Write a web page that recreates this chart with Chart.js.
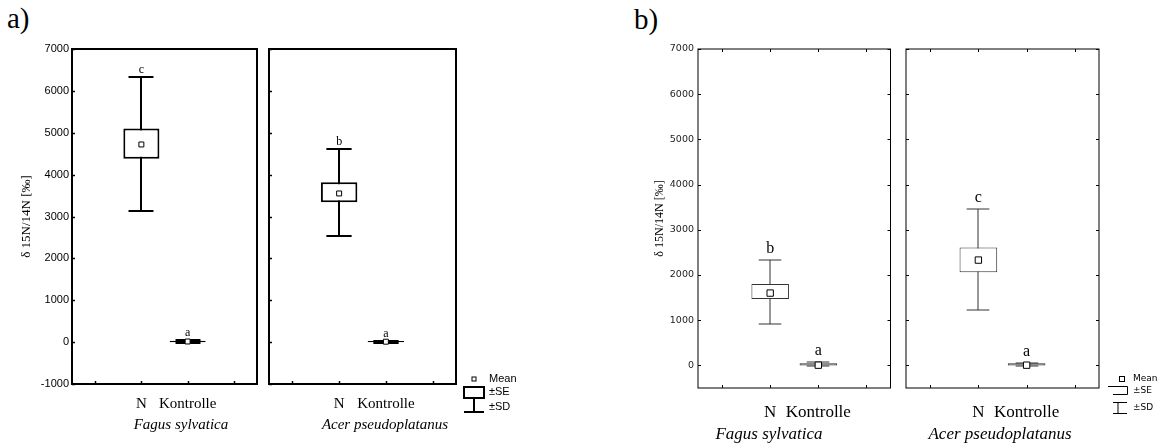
<!DOCTYPE html>
<html>
<head>
<meta charset="utf-8">
<script src="https://cdn.jsdelivr.net/npm/chart.js@4.4.0/dist/chart.umd.min.js"></script>
<style>
    body { margin: 0; background: #fff; width: 1164px; height: 445px; position: relative; overflow: hidden; }
    canvas { position: absolute; top: 0; }
    .txt { position: absolute; font-family: 'Liberation Serif', 'Times New Roman', serif; color: #000; white-space: nowrap; }
    .sp { font-style: italic; transform: translateX(-50%); }
</style>
</head>
<body>
<div class="txt" style="left:7px;top:2px;font-size:29px">a)</div>
<div class="txt" style="left:634px;top:3px;font-size:29px">b)</div>

<canvas id="aFagus" width="262" height="445" style="left:0"></canvas>
<canvas id="aAcer" width="300" height="445" style="left:262px"></canvas>
<canvas id="bFagus" width="316" height="445" style="left:580px"></canvas>
<canvas id="bAcer" width="268" height="445" style="left:896px"></canvas>

<div class="txt sp" style="left:181px;top:416px;font-size:15px">Fagus sylvatica</div>
<div class="txt sp" style="left:385px;top:416px;font-size:15px">Acer pseudoplatanus</div>
<div class="txt sp" style="left:769px;top:424px;font-size:17px">Fagus sylvatica</div>
<div class="txt sp" style="left:1000px;top:424px;font-size:17px">Acer pseudoplatanus</div>

<script>
    // Kategorien: leere Plätze links/rechts wie im Original
    const categories = ['', 'N', 'Kontrolle', ''];
    const yTicksA = [-1000, 0, 1000, 2000, 3000, 4000, 5000, 6000, 7000];
    const yTicksB = [0, 1000, 2000, 3000, 4000, 5000, 6000, 7000];
    const yTitle = 'δ 15N/14N [‰]';

    // a) Fagus sylvatica
    const aFagusMean = [4720, 15];
    const aFagusSE = [[4380, 5100], [0, 30]];
    const aFagusSD = [[3120, 6330], [-20, 50]];
    const aFagusLetters = ['c', 'a'];

    // a) Acer pseudoplatanus
    const aAcerMean = [3550, 10];
    const aAcerSE = [[3340, 3820], [-5, 25]];
    const aAcerSD = [[2530, 4610], [-15, 35]];
    const aAcerLetters = ['b', 'a'];

    // b) Fagus sylvatica
    const bFagusMean = [1600, 5];
    const bFagusSE = [[1470, 1800], [0, 50]];
    const bFagusSD = [[910, 2330], [-15, 65]];
    const bFagusLetters = ['b', 'a'];

    // b) Acer pseudoplatanus
    const bAcerMean = [2330, 5];
    const bAcerSE = [[2060, 2610], [0, 45]];
    const bAcerSD = [[1220, 3450], [-15, 60]];
    const bAcerLetters = ['c', 'a'];

    // Rahmen um die Zeichenfläche plus kurze Striche nach innen
    const framePlugin = {
        id: 'frame',
        afterDraw(chart, args, o) {
            const {ctx, chartArea: a, scales: {x, y}} = chart;
            ctx.save();
            ctx.strokeStyle = '#000';
            ctx.lineWidth = o.lineWidth;
            ctx.strokeRect(a.left, a.top, a.right - a.left, a.bottom - a.top);
            ctx.lineWidth = o.tickWidth;
            ctx.beginPath();
            o.yTicks.forEach(v => {
                const py = Math.round(y.getPixelForValue(v)) + 0.5;
                if (o.sides.includes('left')) { ctx.moveTo(a.left, py); ctx.lineTo(a.left + o.tickLen, py); }
                if (o.sides.includes('right')) { ctx.moveTo(a.right, py); ctx.lineTo(a.right - o.tickLen, py); }
            });
            categories.forEach((c, i) => {
                const px = Math.round(x.getPixelForValue(i)) + 0.5;
                if (o.sides.includes('bottom')) { ctx.moveTo(px, a.bottom); ctx.lineTo(px, a.bottom - o.tickLen); }
                if (o.sides.includes('top')) { ctx.moveTo(px, a.top); ctx.lineTo(px, a.top + o.tickLen); }
            });
            ctx.stroke();
            ctx.restore();
        }
    };

    // ±SD Whisker hinter den Boxen, Buchstaben darüber
    const whiskerPlugin = {
        id: 'whiskers',
        beforeDatasetsDraw(chart, args, o) {
            const {ctx, scales: {x, y}} = chart;
            const slot = x.getPixelForValue(1) - x.getPixelForValue(0);
            const half = slot * o.cap / 2;
            ctx.save();
            ctx.strokeStyle = o.color;
            ctx.lineWidth = o.lineWidth;
            o.sd.forEach((r, k) => {
                const px = Math.round(x.getPixelForValue(k + 1));
                const y0 = Math.round(y.getPixelForValue(r[0]));
                const y1 = Math.round(y.getPixelForValue(r[1]));
                ctx.beginPath();
                ctx.moveTo(px, y0); ctx.lineTo(px, y1);
                ctx.moveTo(px - half, y0); ctx.lineTo(px + half, y0);
                ctx.moveTo(px - half, y1); ctx.lineTo(px + half, y1);
                ctx.stroke();
            });
            ctx.restore();
        },
        afterDatasetsDraw(chart, args, o) {
            const {ctx, scales: {x, y}} = chart;
            ctx.save();
            ctx.fillStyle = '#000';
            ctx.font = o.letterFont;
            ctx.textAlign = 'center';
            ctx.textBaseline = 'alphabetic';
            o.letters.forEach((t, k) => {
                ctx.fillText(t, x.getPixelForValue(k + 1), y.getPixelForValue(o.sd[k][1]) - o.gap);
            });
            ctx.restore();
        }
    };

    // Legende (Mean / ±SE / ±SD) rechts neben dem zweiten Feld
    const keyPlugin = {
        id: 'key',
        afterDraw(chart, args, o) {
            if (!o.show) return;
            const {ctx, chartArea: a} = chart;
            const gx = a.right + o.dx;
            ctx.save();
            ctx.strokeStyle = '#000';
            ctx.fillStyle = '#000';
            ctx.font = o.font;
            ctx.textBaseline = 'middle';
            ctx.textAlign = 'left';
            const tx = a.right + o.textDx;
            // Mean
            ctx.lineWidth = 1;
            const s = o.meanSize;
            ctx.strokeRect(gx - s / 2 + 0.5, o.yMean - s / 2 + 0.5, s - 1, s - 1);
            ctx.fillText('Mean', tx, o.yMean);
            if (o.style === 'a') {
                ctx.lineWidth = 2;
                ctx.strokeRect(gx - 10, o.ySE - 5, 20, 11);
                ctx.beginPath();
                ctx.moveTo(gx, o.ySE + 6); ctx.lineTo(gx, o.ySD + 5);
                ctx.moveTo(gx - 10, o.ySD + 5); ctx.lineTo(gx + 10, o.ySD + 5);
                ctx.stroke();
            } else {
                ctx.lineWidth = 1;
                ctx.beginPath();
                ctx.moveTo(gx - 14, o.ySE - 4.5); ctx.lineTo(gx + 5.5, o.ySE - 4.5); ctx.lineTo(gx + 5.5, o.ySE + 3.5);
                ctx.lineTo(gx - 9, o.ySE + 3.5);
                ctx.moveTo(gx - 9, o.ySD - 5.5); ctx.lineTo(gx + 5, o.ySD - 5.5);
                ctx.moveTo(gx - 4, o.ySD - 5.5); ctx.lineTo(gx - 4, o.ySD + 5.5);
                ctx.moveTo(gx - 9, o.ySD + 5.5); ctx.lineTo(gx + 5, o.ySD + 5.5);
                ctx.stroke();
            }
            ctx.fillText('±SE', tx, o.ySE);
            ctx.fillText('±SD', tx, o.ySD);
            ctx.restore();
        }
    };

    function makePanel(canvasId, p) {
        const ctx = document.getElementById(canvasId).getContext('2d');
        return new Chart(ctx, {
            type: 'bar',
            data: {
                labels: categories,
                datasets: [
                    {
                        type: 'line', label: 'Mean', data: [null, ...p.mean, null],
                        showLine: false, pointStyle: 'rect', pointRadius: p.pointR,
                        pointBackgroundColor: '#fff', pointBorderColor: '#000', pointBorderWidth: 1, order: 0
                    },
                    {
                        label: '±SE', data: [null, ...p.se, null],
                        backgroundColor: '#fff', borderColor: p.boxColor, borderWidth: p.lw,
                        borderSkipped: false, barPercentage: 0.78, categoryPercentage: 1, order: 1
                    }
                ]
            },
            options: {
                responsive: false,
                animation: false,
                layout: { padding: p.padding },
                plugins: {
                    legend: { display: false },
                    tooltip: { enabled: false },
                    frame: { lineWidth: p.frameW, tickWidth: p.tickW, tickLen: 3, sides: p.sides, yTicks: p.yTicks },
                    whiskers: { sd: p.sd, letters: p.letters, cap: p.cap, lineWidth: p.lw, color: p.boxColor, letterFont: p.letterFont, gap: p.gap },
                    key: p.key || { show: false }
                },
                scales: {
                    x: {
                        grid: { display: false, drawTicks: false },
                        border: { display: false },
                        ticks: { color: '#000', font: { family: 'Liberation Serif', size: p.xFont }, padding: p.xPad, autoSkip: false, maxRotation: 0 },
                        afterFit: s => { s.height = p.xHeight; }
                    },
                    y: {
                        min: p.yMin, max: 7000,
                        afterBuildTicks: s => { s.ticks = p.yTicks.map(v => ({ value: v })); },
                        grid: { display: false, drawTicks: false },
                        border: { display: false },
                        ticks: {
                            display: p.showY, color: p.yColor, font: { family: p.yFamily, size: p.yFont }, padding: p.yPad,
                            callback: v => String(v)
                        },
                        title: {
                            display: p.showY, text: yTitle, color: '#000',
                            font: { family: 'Liberation Serif', size: p.titleFont }, padding: { top: p.titlePad, bottom: 0 }
                        },
                        afterFit: s => { s.width = p.yWidth; }
                    }
                }
            },
            plugins: [framePlugin, whiskerPlugin, keyPlugin]
        });
    }

    const styleA = {
        yMin: -1000, yTicks: yTicksA, lw: 2, frameW: 2, tickW: 1.5, boxColor: '#000', pointR: 3.5,
        cap: 0.54, letterFont: '12px "Liberation Serif"', gap: 4, sides: ['left', 'bottom'],
        xFont: 15, xPad: 11, xHeight: 61, yColor: '#000', yFamily: 'Liberation Sans', yFont: 11, yPad: 3,
        titleFont: 13, titlePad: 19
    };
    const styleB = {
        yMin: -500, yTicks: yTicksB, lw: 1, frameW: 1, tickW: 1, boxColor: '#333', pointR: 4.5,
        cap: 0.47, letterFont: '16px "Liberation Serif"', gap: 7, sides: ['left', 'right', 'top', 'bottom'],
        xFont: 17, xPad: 14, xHeight: 57, yColor: '#222', yFamily: 'DejaVu Sans', yFont: 9.5, yPad: 4,
        titleFont: 12, titlePad: 73
    };

    makePanel('aFagus', Object.assign({}, styleA, {
        mean: aFagusMean, se: aFagusSE, sd: aFagusSD, letters: aFagusLetters,
        showY: true, yWidth: 72, padding: { top: 49, right: 5, left: 0, bottom: 0 }
    }));
    makePanel('aAcer', Object.assign({}, styleA, {
        mean: aAcerMean, se: aAcerSE, sd: aAcerSD, letters: aAcerLetters,
        showY: false, yWidth: 7, padding: { top: 49, right: 106, left: 0, bottom: 0 },
        key: { show: true, style: 'a', dx: 18, textDx: 33, meanSize: 5, yMean: 379, ySE: 392, ySD: 407, font: '11px "Liberation Sans"' }
    }));
    makePanel('bFagus', Object.assign({}, styleB, {
        mean: bFagusMean, se: bFagusSE, sd: bFagusSD, letters: bFagusLetters,
        showY: true, yWidth: 118, padding: { top: 49, right: 4, left: 0, bottom: 0 }
    }));
    makePanel('bAcer', Object.assign({}, styleB, {
        mean: bAcerMean, se: bAcerSE, sd: bAcerSD, letters: bAcerLetters,
        showY: false, yWidth: 10, padding: { top: 49, right: 65, left: 0, bottom: 0 },
        key: { show: true, style: 'b', dx: 23, textDx: 34, meanSize: 6, yMean: 379, ySE: 391, ySD: 408, font: '9px "DejaVu Sans"' }
    }));
</script>
</body>
</html>
